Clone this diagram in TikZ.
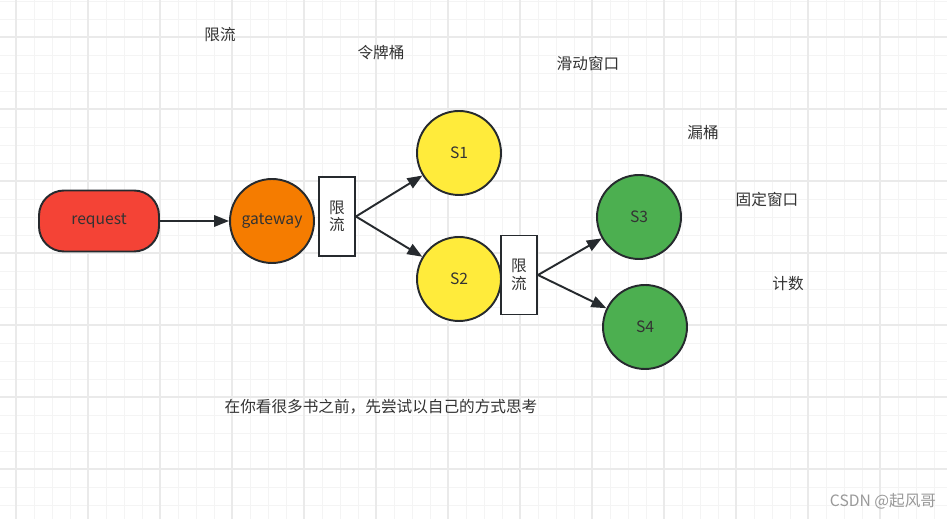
\documentclass[tikz,border=0pt]{standalone}
\usepackage{xcolor}
\usepackage{fontspec}
\setmainfont{Noto Sans CJK SC}
\usetikzlibrary{arrows.meta}

\definecolor{gridminor}{HTML}{F4F4F4}
\definecolor{gridmajor}{HTML}{EAEAEA}
\definecolor{edgegray}{HTML}{262A2E}
\definecolor{textgray}{HTML}{333333}
\definecolor{reqred}{HTML}{F44336}
\definecolor{gworange}{HTML}{F57C00}
\definecolor{svyellow}{HTML}{FFEB3B}
\definecolor{svgreen}{HTML}{4CAF50}

\begin{document}
\begin{tikzpicture}[x=0.02cm, y=-0.02cm,
    every node/.style={font=\fontsize{8.9}{10}\selectfont, text=textgray},
    svc/.style={circle, draw=edgegray, line width=1.1pt, minimum size=1.68cm, inner sep=0pt},
    limbox/.style={draw=edgegray, fill=white, line width=1.1pt, minimum width=0.72cm, minimum height=1.58cm, inner sep=0pt, align=center},
    flow/.style={-{Triangle[length=8.5pt, width=6.5pt]}, draw=edgegray, line width=1.1pt}]
                        \useasboundingbox (0, 0) rectangle (947, 519);
                        \fill[white] (0, 0) rectangle (947, 519);

                        % grid
                        \foreach \gx in {-2, 16, ..., 947}
                            \draw[gridminor, line width=0.5pt] (\gx, 0) -- (\gx, 519);
                        \foreach \gy in {1, 19, ..., 519}
                            \draw[gridminor, line width=0.5pt] (0, \gy) -- (947, \gy);
                        \foreach \gx in {16, 88, ..., 947}
                            \draw[gridmajor, line width=0.6pt] (\gx, 0) -- (\gx, 519);
                        \foreach \gy in {37, 109, ..., 519}
                            \draw[gridmajor, line width=0.6pt] (0, \gy) -- (947, \gy);

                        \node [draw=edgegray, fill=reqred, line width=1.1pt, rounded corners=0.5cm,
                               minimum width=2.4cm, minimum height=1.22cm] (req) at (99, 221) {request};

                        \node [svc, fill=gworange] (gw) at (272, 221) {gateway};
                        \node [limbox] (lim1) at (337, 216.5) {限\\流};

                        \node [svc, fill=svyellow] (s1) at (459, 153) {S1};
                        \node [svc, fill=svyellow] (s2) at (459, 279) {S2};
                        \node [limbox] (lim2) at (519, 275) {限\\流};

                        \node [svc, fill=svgreen] (s3) at (639, 217) {S3};
                        \node [svc, fill=svgreen] (s4) at (645, 327) {S4};

                        \draw[flow] (req) -- (gw);
                        \draw[flow] (lim1.east) -- (s1);
                        \draw[flow] (lim1.east) -- (s2);
                        \draw[flow] (lim2.east) -- (s3);
                        \draw[flow] (lim2.east) -- (s4);

                        % notes
                        \node (n1) at (220, 35) {限流};
                        \node (n2) at (381, 53) {令牌桶};
                        \node (n3) at (588, 64) {滑动窗口};
                        \node (n4) at (703, 133) {漏桶};
                        \node (n5) at (767, 200) {固定窗口};
                        \node (n6) at (788, 284) {计数};
                        \node (quote) at (381, 407) {在你看很多书之前，先尝试以自己的方式思考};

                        \node [text=black!40] (mark) at (883, 501) {CSDN @起风哥};
                    \end{tikzpicture}
\end{document}
